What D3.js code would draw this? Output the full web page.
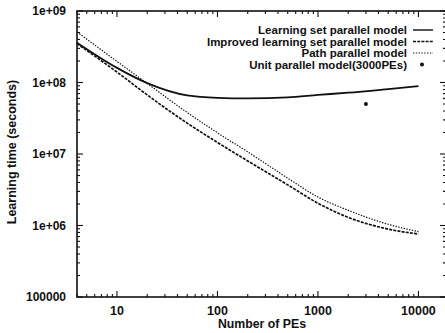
<!DOCTYPE html>
<html>
<head>
<meta charset="utf-8">
<script src="https://cdn.jsdelivr.net/npm/d3@7"></script>
<style>
  body { margin: 0; background: #fff; }
  svg { display: block; }
  text { font-family: "Liberation Sans", Arial, sans-serif; font-weight: bold; fill: #111; }
</style>
</head>
<body>
<script>
// size of the picture
var w = 445;
var h = 333;

// data (learning time in seconds per number of PEs)
var pes = [4, 10, 20, 50, 100, 200, 500, 1000, 2000, 5000, 10000];
var learningSet = [3.6e8, 1.6e8, 9.8e7, 6.6e7, 6.1e7, 6.0e7, 6.2e7, 6.7e7, 7.2e7, 8.1e7, 8.9e7];
var improvedSet = [3.5e8, 1.4e8, 6.7e7, 2.7e7, 1.45e7, 8.0e6, 3.7e6, 2.05e6, 1.3e6, 8.9e5, 7.6e5];
var pathModel = [5.1e8, 1.97e8, 9.7e7, 3.8e7, 1.98e7, 1.07e7, 4.6e6, 2.5e6, 1.63e6, 1.04e6, 8.2e5];
var unitPes = [3000];
var unitModel = [5e7];

var seriesNames = ["Learning set parallel model", "Improved learning set parallel model",
                   "Path parallel model", "Unit parallel model(3000PEs)"];
var xTicks = [10, 100, 1000, 10000];
var yTicks = [1e5, 1e6, 1e7, 1e8, 1e9];
var yTickLabels = ["100000", "1e+06", "1e+07", "1e+08", "1e+09"];

// plot box (window.top is taken, so own names)
var boxLeft = 77, boxRight = 446, boxTop = 11, boxBottom = 297;

var svg = d3.select("body")
    .append("svg")
    .attr("width", w)
    .attr("height", h);

var x = d3.scaleLog()
    .domain([4, 18800])
    .range([boxLeft, boxRight]);

var y = d3.scaleLog()
    .domain([1e5, 1e9])
    .range([boxBottom, boxTop]);

// minor ticks 2..9 in every decade
function minors(lo, hi) {
  var out = [];
  for (var e = Math.floor(Math.log10(lo)); e <= Math.ceil(Math.log10(hi)); e++) {
    for (var k = 1; k <= 9; k++) {
      var v = k * Math.pow(10, e);
      if (v >= lo && v <= hi) out.push({v: v, major: k === 1});
    }
  }
  return out;
}
var xMin = minors(4, 18800);
var yMin = minors(1e5, 1e9);

var axes = svg.append("g").attr("stroke", "#111").attr("fill", "none");

// frame
axes.append("rect")
    .attr("x", boxLeft).attr("y", boxTop)
    .attr("width", boxRight - boxLeft).attr("height", boxBottom - boxTop)
    .attr("stroke-width", 1.6);

// x ticks, bottom and top, pointing inward
axes.selectAll(".xb").data(xMin).enter().append("line")
    .attr("x1", function(d) { return x(d.v); })
    .attr("x2", function(d) { return x(d.v); })
    .attr("y1", boxBottom)
    .attr("y2", function(d) { return boxBottom - (d.major ? 6 : 3); })
    .attr("stroke-width", 1.1);
axes.selectAll(".xt").data(xMin).enter().append("line")
    .attr("x1", function(d) { return x(d.v); })
    .attr("x2", function(d) { return x(d.v); })
    .attr("y1", boxTop)
    .attr("y2", function(d) { return boxTop + (d.major ? 6 : 3); })
    .attr("stroke-width", 1.1);

// y ticks, left and right
axes.selectAll(".yl").data(yMin).enter().append("line")
    .attr("y1", function(d) { return y(d.v); })
    .attr("y2", function(d) { return y(d.v); })
    .attr("x1", boxLeft)
    .attr("x2", function(d) { return boxLeft + (d.major ? 6 : 3); })
    .attr("stroke-width", 1.1);
axes.selectAll(".yr").data(yMin).enter().append("line")
    .attr("y1", function(d) { return y(d.v); })
    .attr("y2", function(d) { return y(d.v); })
    .attr("x1", boxRight)
    .attr("x2", function(d) { return boxRight - (d.major ? 6 : 3); })
    .attr("stroke-width", 1.1);

// tick labels
svg.selectAll(".xl").data(xTicks).enter().append("text")
    .attr("x", function(d) { return x(d); })
    .attr("y", 315)
    .attr("text-anchor", "middle")
    .attr("font-size", "12.5px")
    .text(function(d) { return d; });

svg.selectAll(".ylab").data(yTicks).enter().append("text")
    .attr("x", 66)
    .attr("y", function(d) { return y(d) + 4; })
    .attr("text-anchor", "end")
    .attr("font-size", "12px")
    .text(function(d, i) { return yTickLabels[i]; });

// axis titles
svg.append("text")
    .attr("x", 262).attr("y", 328)
    .attr("text-anchor", "middle")
    .attr("font-size", "12.3px")
    .text("Number of PEs");

svg.append("text")
    .attr("transform", "translate(16,152) rotate(-90)")
    .attr("text-anchor", "middle")
    .attr("font-size", "12.5px")
    .text("Learning time (seconds)");

// curves
var line = d3.line()
    .x(function(d) { return x(d[0]); })
    .y(function(d) { return y(d[1]); })
    .curve(d3.curveMonotoneX);

var styles = [
  {vals: learningSet, width: 1.8, dash: null},
  {vals: improvedSet, width: 1.7, dash: "3,1.2"},
  {vals: pathModel, width: 1.2, dash: "1.4,1.4"}
];

styles.forEach(function(s) {
  svg.append("path")
      .datum(d3.zip(pes, s.vals))
      .attr("d", line)
      .attr("fill", "none")
      .attr("stroke", "#111")
      .attr("stroke-width", s.width)
      .attr("stroke-dasharray", s.dash);
});

svg.selectAll(".unit").data(d3.zip(unitPes, unitModel)).enter().append("circle")
    .attr("cx", function(d) { return x(d[0]); })
    .attr("cy", function(d) { return y(d[1]); })
    .attr("r", 2)
    .attr("fill", "#111");

// legend
var legend = svg.append("g");
seriesNames.forEach(function(name, i) {
  var ly = 30 + i * 11.5;
  legend.append("text")
      .attr("x", 407).attr("y", ly + 4)
      .attr("text-anchor", "end")
      .attr("font-size", "11.5px")
      .text(name);
  if (i < 3) {
    legend.append("line")
        .attr("x1", 413).attr("x2", 433)
        .attr("y1", ly).attr("y2", ly)
        .attr("stroke", "#111")
        .attr("stroke-width", styles[i].width * 0.8)
        .attr("stroke-dasharray", styles[i].dash);
  } else {
    legend.append("circle")
        .attr("cx", 422).attr("cy", ly)
        .attr("r", 2)
        .attr("fill", "#111");
  }
});
</script>
</body>
</html>
